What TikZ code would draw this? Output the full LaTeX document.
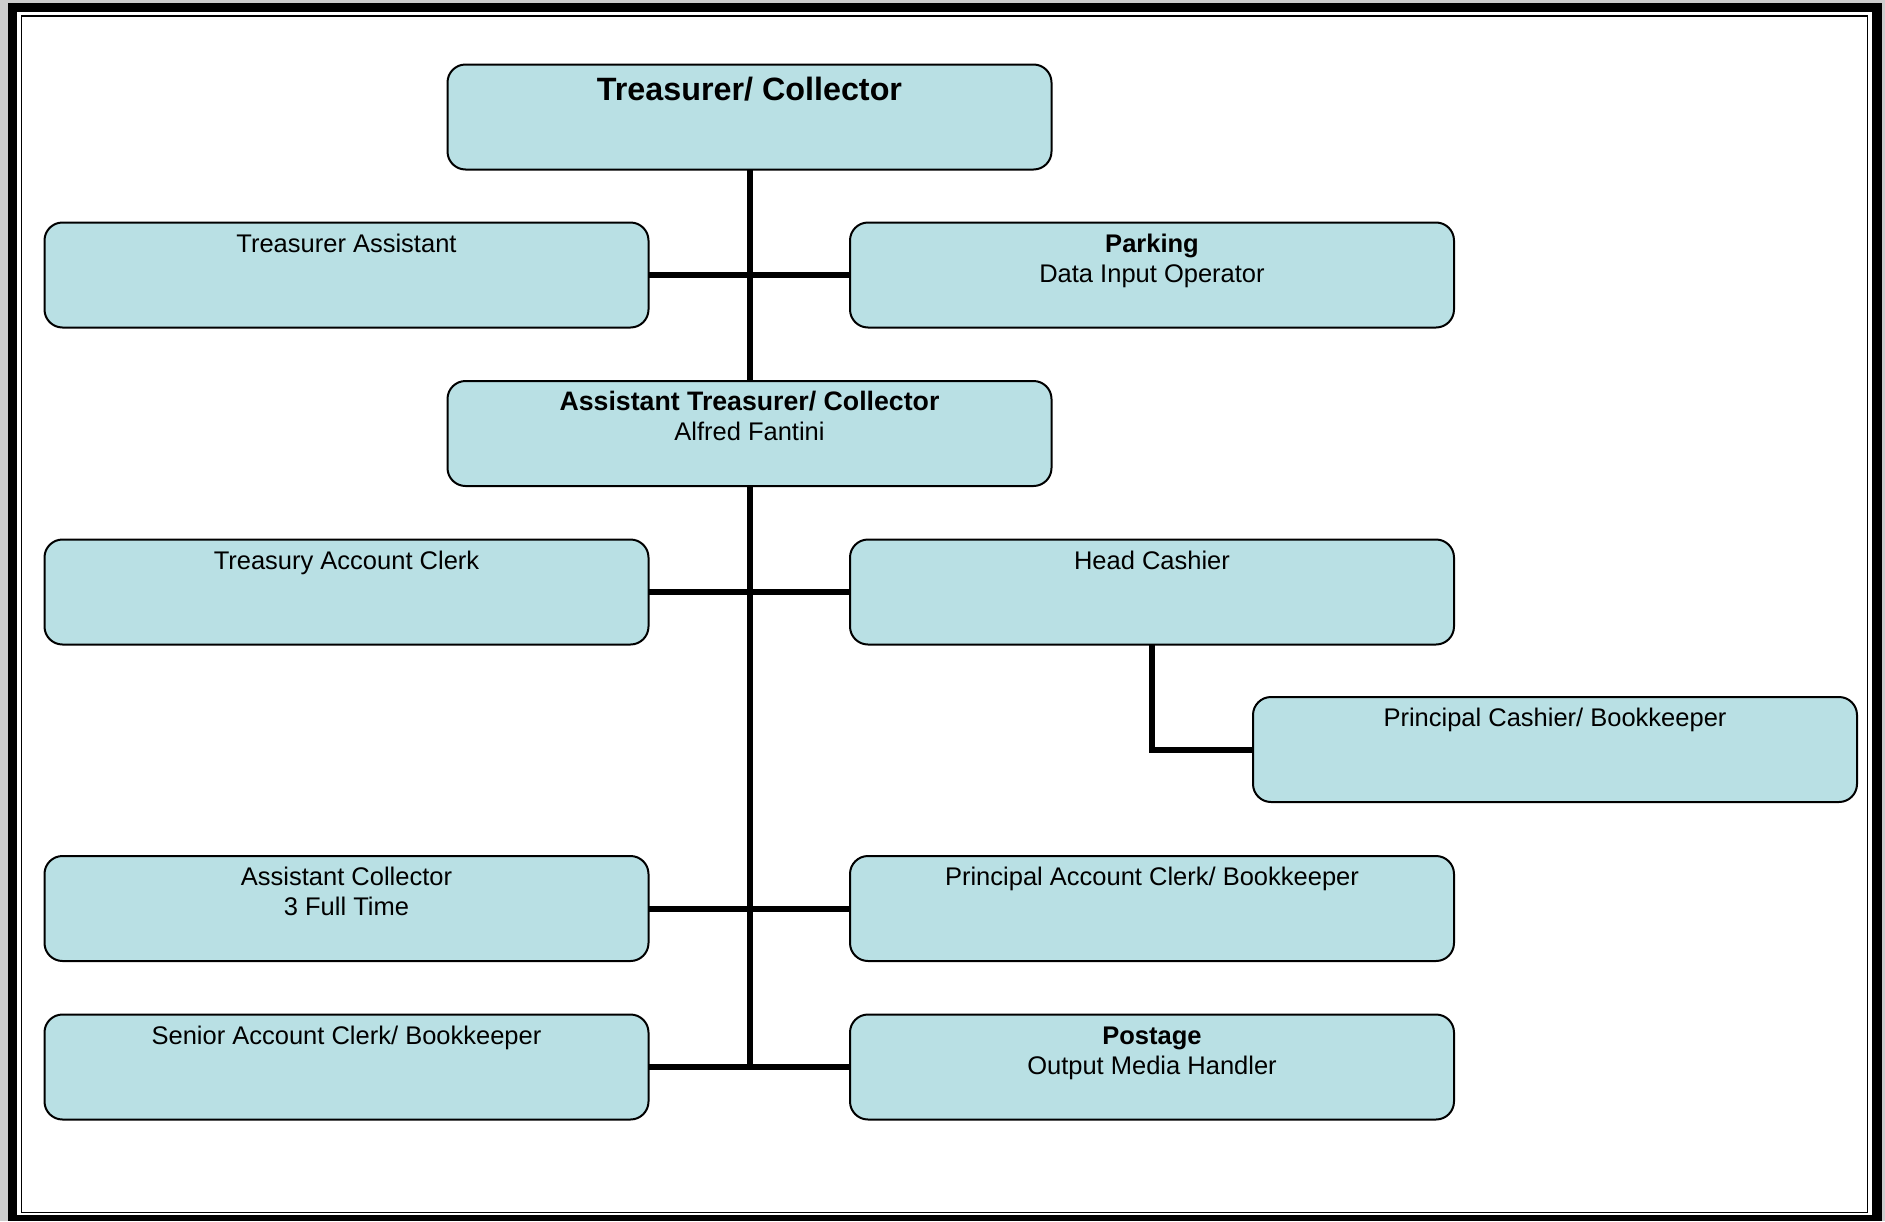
\documentclass[tikz,border=0pt]{standalone}
\usepackage{fontspec}
\setmainfont{Liberation Sans}
\definecolor{boxblue}{RGB}{185,224,228}
\definecolor{outgrey}{RGB}{205,205,205}
\tikzset{
  orgbox/.style={draw=black, line width=2pt, fill=boxblue, rounded corners=18pt,
    inner sep=0pt, outer sep=0pt, minimum width=604pt, minimum height=105pt},
  conn/.style={line width=6pt, draw=black},
}
\newcommand{\boxtext}[1]{\parbox[c][105pt][t]{604pt}{\centering\fontsize{25.5pt}{30pt}\selectfont\rule{0pt}{29.5pt}#1}}
\newcommand{\titletext}[1]{\parbox[c][105pt][t]{604pt}{\centering\fontsize{32.3pt}{38pt}\selectfont\bfseries\rule{0pt}{36pt}#1}}
\newcommand{\bigbold}[1]{{\fontsize{26.7pt}{30pt}\selectfont\bfseries #1}}
\begin{document}
\begin{tikzpicture}[x=1pt,y=-1pt]
\useasboundingbox (0,0) rectangle (1885,1221);
% frame
\fill[outgrey] (0,0) rectangle (1885,1221);
\fill[black] (8,3) rectangle (1882,1221);
\fill[white] (17,12) rectangle (1872,1215);
\draw[line width=1.5pt] (21.5,16) rectangle (1867.5,1212.5);
% boxes
\node[orgbox] (top)  at (749.5,117)   {\titletext{Treasurer/ Collector}};
\node[orgbox] (ta)   at (346.5,275)   {\boxtext{Treasurer Assistant}};
\node[orgbox] (park) at (1152,275)    {\boxtext{\textbf{Parking}\\Data Input Operator}};
\node[orgbox] (at)   at (749.5,433.5) {\boxtext{\bigbold{Assistant Treasurer/ Collector}\\Alfred Fantini}};
\node[orgbox] (tac)  at (346.5,592)   {\boxtext{Treasury Account Clerk}};
\node[orgbox] (hc)   at (1152,592)    {\boxtext{Head Cashier}};
\node[orgbox] (pc)   at (1555,749.5)  {\boxtext{Principal Cashier/ Bookkeeper}};
\node[orgbox] (ac)   at (346.5,908.5) {\boxtext{Assistant Collector\\3 Full Time}};
\node[orgbox] (pac)  at (1152,908.5)  {\boxtext{Principal Account Clerk/ Bookkeeper}};
\node[orgbox] (sac)  at (346.5,1067)  {\boxtext{Senior Account Clerk/ Bookkeeper}};
\node[orgbox] (post) at (1152,1067)   {\boxtext{\textbf{Postage}\\Output Media Handler}};
% connectors
\draw[conn] (top.south) -- (at.north);
\draw[conn] (at.south) -- ([yshift=-3pt]at.south |- sac.east);
\draw[conn] (ta.east) -- (park.west);
\draw[conn] (tac.east) -- (hc.west);
\draw[conn] (ac.east) -- (pac.west);
\draw[conn] (sac.east) -- (post.west);
\draw[conn] (hc.south) |- (pc.west);
\end{tikzpicture}
\end{document}
